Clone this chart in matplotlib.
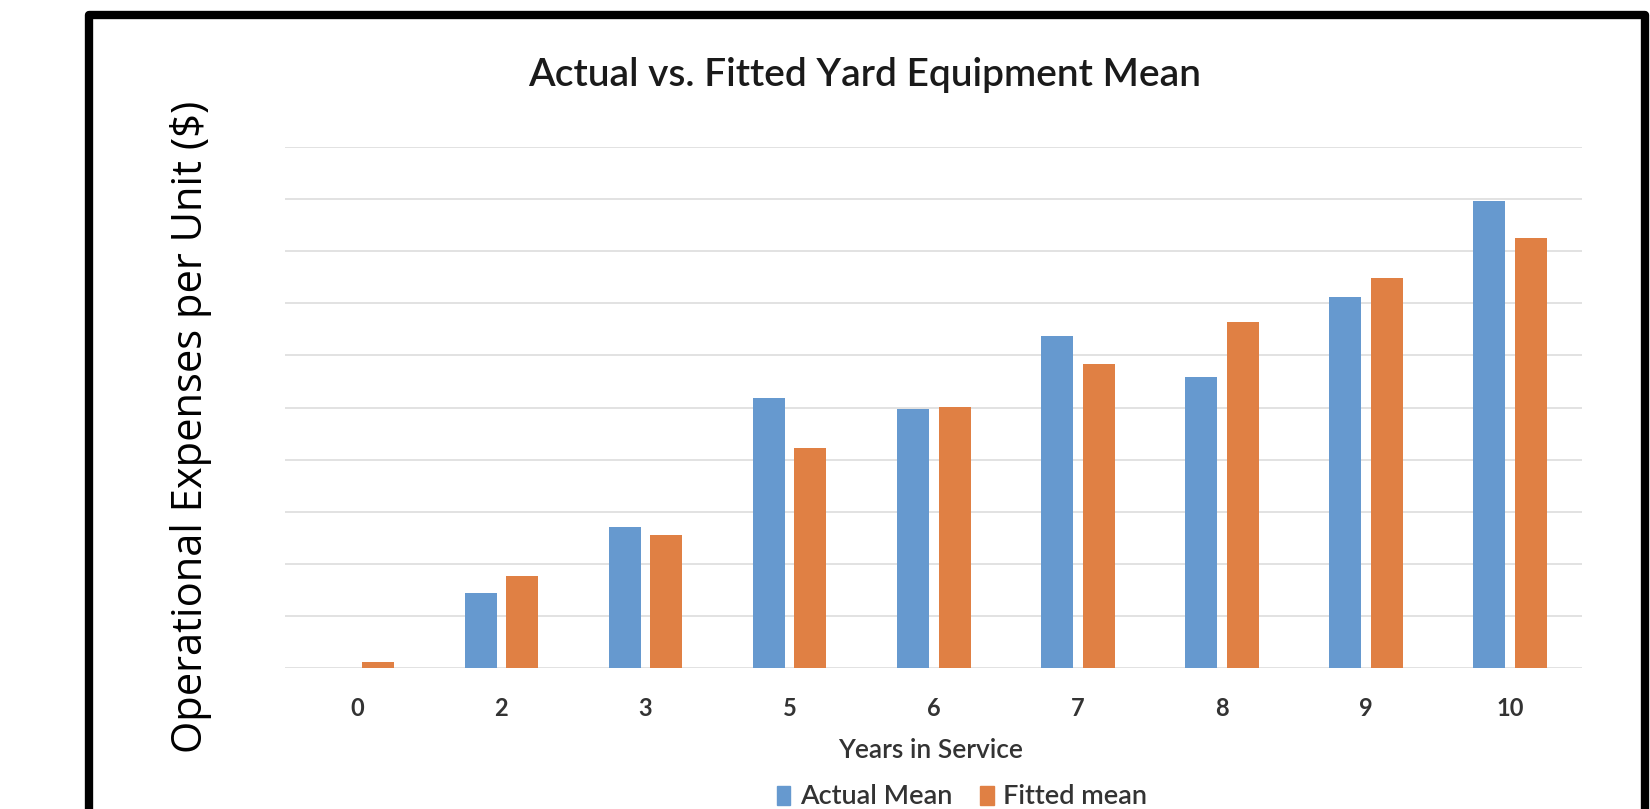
import numpy as np
import matplotlib
matplotlib.use("Agg")
import matplotlib.pyplot as plt
from matplotlib.patches import Rectangle, Patch

# Mean operating cost per unit by age (gridline units)
years = ["0", "2", "3", "5", "6", "7", "8", "9", "10"]
actual_mean = [0.0, 1.44, 2.70, 5.19, 4.97, 6.38, 5.59, 7.12, 8.96]
fitted_mean = [0.12, 1.77, 2.55, 4.22, 5.01, 5.83, 6.65, 7.49, 8.26]

blue = "#6699CF"
orange = "#E08044"
font = ["Lato", "DejaVu Sans"]

fig = plt.figure(figsize=(16.5, 8.09), dpi=100)
ax = fig.add_axes([285 / 1650, 1 - 668 / 809, 1297 / 1650, (668 - 147) / 809])

x = np.arange(len(years))
w = 0.222
ax.bar(x - 0.142, actual_mean, w, color=blue, zorder=3)
ax.bar(x + 0.146, fitted_mean, w, color=orange, zorder=3)

ax.set_xlim(-0.5, len(years) - 0.5)
ax.set_ylim(0, 10)
ax.set_yticks(np.arange(0, 11, 1))
ax.yaxis.grid(True, color="#E2E2E2", linewidth=1.4, zorder=0)
ax.set_yticklabels([])
ax.tick_params(axis="y", length=0)
ax.tick_params(axis="x", length=0, pad=21, labelsize=17, labelcolor="#333333")
ax.set_xticks(x)
ax.set_xticklabels(years, family=font, weight="bold")
for s in ax.spines.values():
    s.set_visible(False)

fig.text(865 / 1650, 1 - 86 / 809, "Actual vs. Fitted Yard Equipment Mean",
         ha="center", va="baseline", fontsize=28, color="#1a1a1a", family=font,
         weight="semibold")
fig.text(931 / 1650, 1 - 758 / 809, "Years in Service",
         ha="center", va="baseline", fontsize=19, color="#333333", family=font,
         weight="semibold")
fig.text(191 / 1650, 1 - 427 / 809, "Operational Expenses per Unit ($)",
         rotation=90, ha="center", va="center", fontsize=30, color="black",
         family=["Open Sans", "DejaVu Sans"])

handles = [Patch(color=blue, label="Actual Mean"), Patch(color=orange, label="Fitted mean")]
fig.legend(handles=handles, loc="center", bbox_to_anchor=(962 / 1650, 1 - 797 / 809),
           ncol=2, frameon=False, handlelength=0.5, handleheight=0.7,
           handletextpad=0.35, columnspacing=1.05,
           prop={"family": font, "size": 19.5, "weight": "semibold"},
           labelcolor="#333333")

# heavy black frame around the chart
fig.patches.append(Rectangle((89 / 1650, -0.1), (1645 - 89) / 1650, 1.1 - 15.5 / 809,
                             transform=fig.transFigure, fill=False,
                             edgecolor="black", linewidth=6, joinstyle="round"))

fig.savefig("out.png", dpi=100)
